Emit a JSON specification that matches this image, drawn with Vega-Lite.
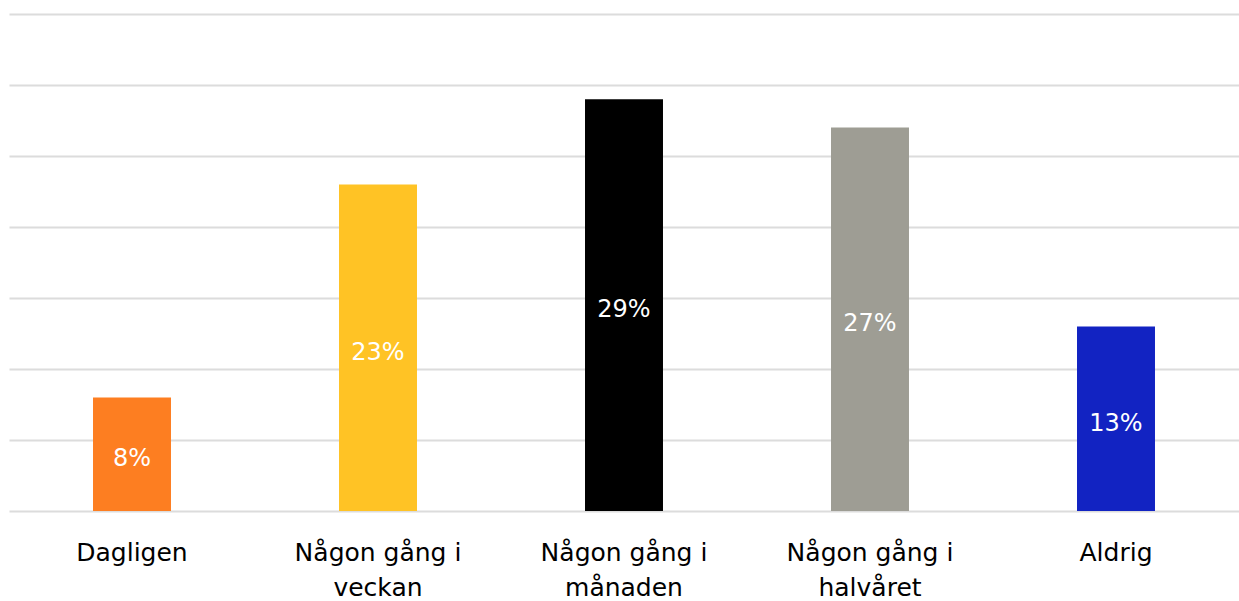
{
  "$schema": "https://vega.github.io/schema/vega-lite/v6.json",
  "width": 1230,
  "height": 497,
  "autosize": {"type": "none"},
  "padding": {"left": 9, "top": 14, "right": 0, "bottom": 90},
  "background": "white",
  "config": {
    "view": {"stroke": null},
    "font": "DejaVu Sans"
  },
  "data": {
    "values": [
      {"kategori": "Dagligen", "andel": 8, "farg": "#fd7e21"},
      {"kategori": "Någon gång i veckan", "andel": 23, "farg": "#ffc325"},
      {"kategori": "Någon gång i månaden", "andel": 29, "farg": "#000000"},
      {"kategori": "Någon gång i halvåret", "andel": 27, "farg": "#9e9d94"},
      {"kategori": "Aldrig", "andel": 13, "farg": "#1223c2"}
    ]
  },
  "transform": [
    {"calculate": "datum.andel / 2", "as": "mitt"},
    {"calculate": "datum.andel + '%'", "as": "etikett"}
  ],
  "encoding": {
    "x": {
      "field": "kategori",
      "type": "nominal",
      "sort": null,
      "scale": {"paddingInner": 0.683, "paddingOuter": 0.3415},
      "axis": {
        "title": null,
        "domain": false,
        "ticks": false,
        "labelAngle": 0,
        "labelFont": "DejaVu Sans",
        "labelFontSize": 25,
        "labelColor": "#000000",
        "labelPadding": 49,
        "labelLineHeight": 35,
        "labelBaseline": "alphabetic",
        "labelExpr": "length(datum.label) > 12 ? [slice(datum.label, 0, 12), slice(datum.label, 13)] : datum.label"
      }
    }
  },
  "layer": [
    {
      "mark": {"type": "bar"},
      "encoding": {
        "y": {
          "field": "andel",
          "type": "quantitative",
          "scale": {"domain": [0, 35], "nice": false},
          "axis": {
            "title": null,
            "values": [0, 5, 10, 15, 20, 25, 30, 35],
            "labels": false,
            "ticks": false,
            "domain": false,
            "grid": true,
            "gridColor": "#dcdcdc",
            "gridWidth": 2
          }
        },
        "color": {"field": "farg", "type": "nominal", "scale": null, "legend": null}
      }
    },
    {
      "mark": {"type": "text", "font": "DejaVu Sans", "color": "white", "fontSize": 24, "baseline": "middle", "dy": 5},
      "encoding": {
        "y": {"field": "mitt", "type": "quantitative"},
        "text": {"field": "etikett", "type": "nominal"}
      }
    }
  ]
}
